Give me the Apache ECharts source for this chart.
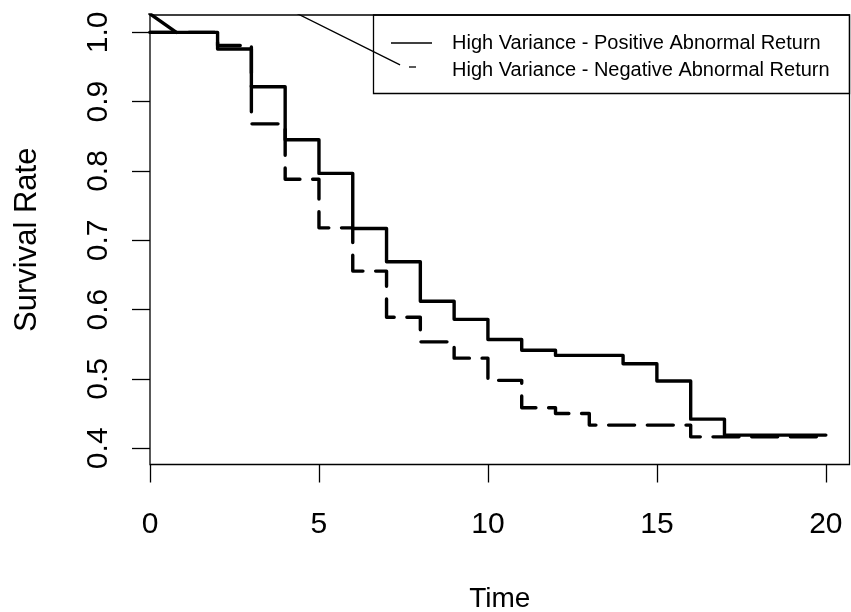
<!DOCTYPE html>
<html>
<head>
<meta charset="utf-8">
<script src="https://cdn.jsdelivr.net/npm/echarts@6/dist/echarts.min.js"></script>
<style>
  html, body { margin: 0; padding: 0; background: #fff; }
  #chart { width: 851px; height: 612px; }
</style>
</head>
<body>
<div id="chart"></div>
<script>
// survival step curves: [time, rate]
const positiveCurve = [
  [0, 1.0], [2, 0.976], [3, 0.9215], [4, 0.845], [5, 0.7965], [6, 0.717],
  [7, 0.669], [8, 0.612], [9, 0.586], [10, 0.557], [11, 0.5415], [12, 0.534],
  [14, 0.522], [15, 0.497], [16, 0.442], [17, 0.419], [20, 0.419]
]
const negativeCurve = [
  [0, 1.0], [2, 0.981], [3, 0.868], [4, 0.788], [5, 0.718], [6, 0.6556],
  [7, 0.589], [8, 0.5535], [9, 0.530], [10, 0.498], [11, 0.4585], [12, 0.4502],
  [13, 0.4334], [16, 0.4165], [20, 0.4165]
]
// stray straight segments drawn in the original plot
const thickSegment = [[0, 1.0267], [0.78, 1.0]]
const thinSegment = [[4.3, 1.0284], [7.4, 0.953]]

const xTicks = [0, 5, 10, 15, 20]
const yTicks = [0.4, 0.5, 0.6, 0.7, 0.8, 0.9, 1.0]
const legendNames = ['High Variance - Positive Abnormal Return', 'High Variance - Negative Abnormal Return']

const font = '"Liberation Sans", Arial, Helvetica, sans-serif'
const chart = echarts.init(document.getElementById('chart'))

chart.setOption({
  animation: false,
  backgroundColor: '#fff',
  grid: {
    left: 150,
    right: 1.5,
    top: 15,
    bottom: 147.5,
    outerBoundsMode: 'none',
    containLabel: false,
    show: true,
    borderColor: '#000',
    borderWidth: 1.3,
    backgroundColor: 'transparent'
  },
  xAxis: {
    type: 'value',
    min: 0,
    max: 20.7,
    name: 'Time',
    nameLocation: 'middle',
    nameGap: 121,
    nameTextStyle: { fontFamily: font, fontSize: 28, color: '#000' },
    splitLine: { show: false },
    axisLine: { show: false },
    axisTick: {
      show: true,
      length: 18,
      customValues: xTicks,
      lineStyle: { color: '#000', width: 1.3 }
    },
    axisLabel: {
      customValues: xTicks,
      margin: 45,
      fontFamily: font,
      fontSize: 30,
      color: '#000'
    }
  },
  yAxis: {
    type: 'value',
    min: 0.3766,
    max: 1.025,
    name: 'Survival Rate',
    nameLocation: 'middle',
    nameGap: 107,
    nameTextStyle: { fontFamily: font, fontSize: 31, color: '#000' },
    splitLine: { show: false },
    axisLine: { show: false },
    axisTick: {
      show: true,
      length: 18,
      customValues: yTicks,
      lineStyle: { color: '#000', width: 1.3 }
    },
    axisLabel: {
      customValues: yTicks,
      rotate: 90,
      margin: 36,
      fontFamily: font,
      fontSize: 30,
      color: '#000',
      formatter: v => v.toFixed(1)
    }
  },
  graphic: [
    {
      type: 'rect',
      z: 1,
      shape: { x: 373.5, y: 15, width: 476, height: 78.5 },
      style: { fill: 'transparent', stroke: '#000', lineWidth: 1.3 }
    },
    {
      type: 'line',
      z: 5,
      shape: { x1: 391, y1: 43, x2: 432, y2: 43 },
      style: { stroke: '#000', lineWidth: 1.3 }
    },
    {
      type: 'line',
      z: 5,
      shape: { x1: 409, y1: 67, x2: 416, y2: 67 },
      style: { stroke: '#000', lineWidth: 1.3 }
    },
    {
      type: 'text',
      z: 5,
      x: 452,
      y: 43,
      style: { text: legendNames[0], fontFamily: font, fontSize: 20, fill: '#000', verticalAlign: 'middle' }
    },
    {
      type: 'text',
      z: 5,
      x: 452,
      y: 70,
      style: { text: legendNames[1], fontFamily: font, fontSize: 20, fill: '#000', verticalAlign: 'middle' }
    }
  ],
  series: [
    {
      name: legendNames[0],
      type: 'line',
      step: 'end',
      data: positiveCurve,
      symbol: 'none',
      lineStyle: { color: '#000', width: 3.4, cap: 'round', join: 'round' }
    },
    {
      name: legendNames[1],
      type: 'line',
      step: 'end',
      data: negativeCurve,
      symbol: 'none',
      lineStyle: { color: '#000', width: 3.4, type: [26, 12.7], cap: 'round', join: 'round' }
    },
    {
      type: 'line',
      data: thickSegment,
      symbol: 'none',
      clip: true,
      lineStyle: { color: '#000', width: 3.4, cap: 'round' }
    },
    {
      type: 'line',
      data: thinSegment,
      symbol: 'none',
      clip: true,
      lineStyle: { color: '#000', width: 1.3 }
    }
  ]
})
</script>
</body>
</html>
